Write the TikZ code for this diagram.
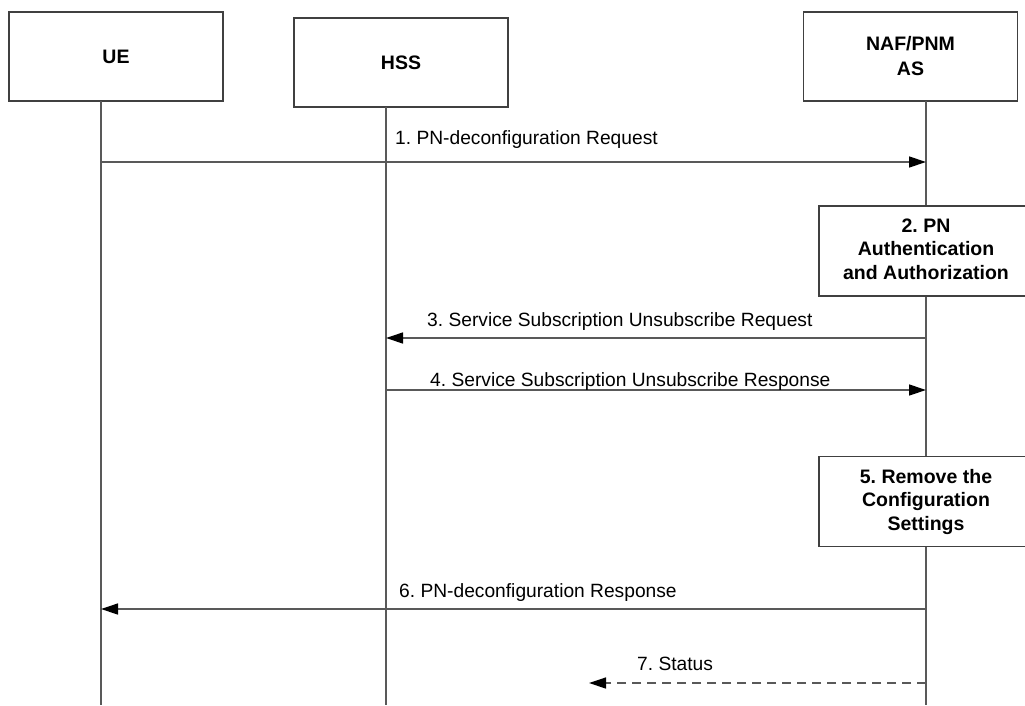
\documentclass[tikz,border=0pt]{standalone}
\usepackage{fontspec}
\setmainfont{Liberation Sans}
\usetikzlibrary{arrows.meta}
\frenchspacing
\begin{document}
\frenchspacing
\begin{tikzpicture}[x=1pt,y=-1pt,
  entity/.style={draw=black!75, line width=1.3pt, fill=white, minimum width=214pt, minimum height=89pt, inner sep=0pt, align=center, font=\fontsize{19.5}{25}\selectfont\bfseries},
  action/.style={draw=black!75, line width=1.3pt, fill=white, minimum width=214pt, minimum height=90pt, inner sep=0pt, align=center, font=\fontsize{19.5}{23.5}\selectfont\bfseries},
  life/.style={draw=black!65, line width=1.3pt},
  msg/.style={draw=black!65, line width=1.3pt, -{Triangle[length=17pt,width=11pt,color=black,fill=black]}},
  lbl/.style={anchor=base west, inner sep=0pt, font=\fontsize{19.2}{23}\selectfont}]
\useasboundingbox (0,0) rectangle (1025,706);
\fill[white] (0,0) rectangle (1025,706);

% entities
\node[entity] (ue) at (116,56.5) {UE};
\node[entity] (hss) at (401,62.5) {HSS};
\node[entity] (naf) at (910.5,56.5) {NAF/PNM\\AS};

% action boxes
\node[action] (auth) at (926,251) {2. PN\\Authentication\\and Authorization\vphantom{g}};
\node[action] (remove) at (926,501.5) {5. Remove the\\Configuration\\Settings};

% lifelines
\coordinate (ueTop) at (101,101);
\coordinate (ueBot) at (101,705);
\coordinate (hssTop) at (386,107);
\coordinate (hssBot) at (386,705);
\coordinate (nafTop) at (926,101);
\coordinate (nafBot) at (926,705);
\draw[life] (ueTop) -- (ueBot);
\draw[life] (hssTop) -- (hssBot);
\draw[life] (nafTop) -- (auth.north);
\draw[life] (auth.south) -- (remove.north);
\draw[life] (remove.south) -- (nafBot);

% message end points
\coordinate (m1a) at (101,162);
\coordinate (m1b) at (926,162);
\coordinate (m3a) at (926,338);
\coordinate (m3b) at (386,338);
\coordinate (m4a) at (386,390);
\coordinate (m4b) at (926,390);
\coordinate (m6a) at (926,609);
\coordinate (m6b) at (101,609);
\coordinate (m7a) at (926,683);
\coordinate (m7b) at (589,683);

\draw[msg] (m1a) -- (m1b);
\draw[msg] (m3a) -- (m3b);
\draw[msg] (m4a) -- (m4b);
\draw[msg] (m6a) -- (m6b);
\draw[msg, dash pattern=on 9pt off 6pt] (m7a) -- (m7b);

% labels
\node[lbl] (l1) at (395,145) {1. PN-deconfiguration Request};
\node[lbl] (l3) at (427,326) {3. Service Subscription Unsubscribe Request};
\node[lbl] (l4) at (430,386) {4. Service Subscription Unsubscribe Response};
\node[lbl] (l6) at (399,597) {6. PN-deconfiguration Response};
\node[lbl] (l7) at (637,670) {7. Status};
\end{tikzpicture}
\end{document}
